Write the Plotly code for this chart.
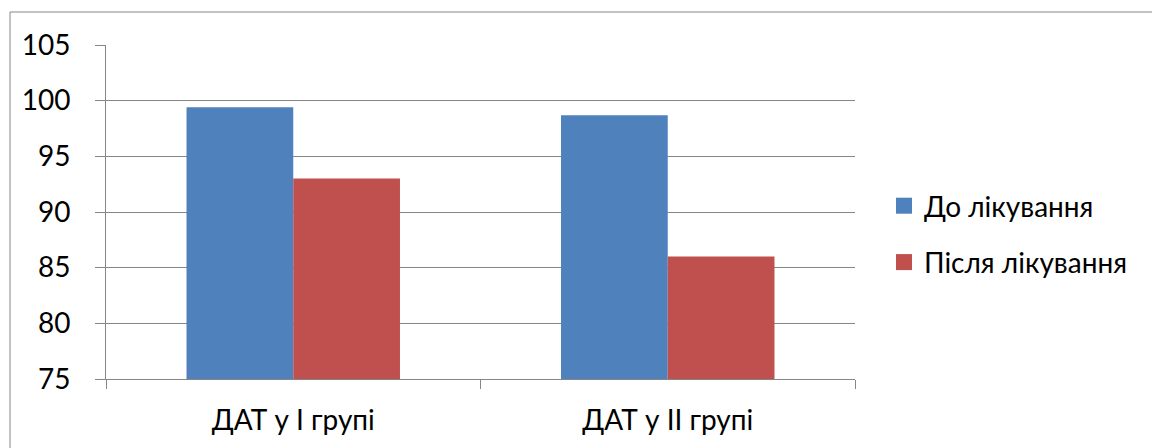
import plotly.graph_objects as go

# Chart data
categories = ["ДАТ у І групі", "ДАТ у ІІ групі"]
series_names = ["До лікування", "Після лікування"]
before_values = [99.4, 98.7]
after_values = [93.0, 86.0]
y_ticks = [75, 80, 85, 90, 95, 100, 105]

BLUE = "#4F81BD"
RED = "#C0504D"
GRID = "#868686"
FONT = "Lato"
FSIZE = 28

W, H = 1152, 448
L, R, T, B = 106, 297, 45, 69
pw, ph = W - L - R, H - T - B


def px_x(p):
    return (p - L) / pw


def px_y(p):
    return (H - B - p) / ph


fig = go.Figure()

for name, vals, color in [
    (series_names[0], before_values, BLUE),
    (series_names[1], after_values, RED),
]:
    fig.add_trace(go.Bar(
        x=categories, y=vals, name=name,
        marker=dict(color=color, line=dict(width=0)),
        showlegend=False,
    ))
    # legend entry with a larger square swatch
    fig.add_trace(go.Scatter(
        x=[None], y=[None], mode="markers", name=name,
        legendgroup=name,
        marker=dict(symbol="square", size=16, color=color),
    ))

# outer chart frame
fig.add_shape(
    type="rect", xref="paper", yref="paper",
    x0=px_x(10), x1=px_x(1170), y0=px_y(470), y1=px_y(12),
    line=dict(color=GRID, width=1), fillcolor="rgba(0,0,0,0)",
    layer="below",
)

fig.update_layout(
    width=W, height=H,
    margin=dict(l=L, r=R, t=T, b=B, pad=0),
    paper_bgcolor="white", plot_bgcolor="white",
    barmode="group", bargap=0.43, bargroupgap=0,
    font=dict(family=FONT, size=FSIZE, color="black"),
    legend=dict(
        x=px_x(884), xanchor="left",
        y=px_y(234), yanchor="middle",
        traceorder="grouped", tracegroupgap=17,
        font=dict(family=FONT, size=FSIZE, color="black"),
        itemsizing="trace",
        bgcolor="rgba(0,0,0,0)",
    ),
    xaxis=dict(
        type="category",
        showline=True, linecolor=GRID, linewidth=1,
        ticks="outside", tickson="boundaries", ticklen=9,
        tickcolor=GRID, tickwidth=1,
        showgrid=False, zeroline=False,
        ticklabelstandoff=16,
        tickfont=dict(family=FONT, size=FSIZE, color="black"),
    ),
    yaxis=dict(
        range=[75, 105], tickvals=y_ticks,
        ticktext=[str(v) for v in y_ticks],
        showline=True, linecolor=GRID, linewidth=1,
        ticks="outside", ticklen=10, tickcolor=GRID, tickwidth=1,
        showgrid=True, gridcolor=GRID, gridwidth=1,
        zeroline=False,
        ticklabelstandoff=19,
        tickfont=dict(family=FONT, size=FSIZE, color="black"),
    ),
)

fig.write_html("out.html")
